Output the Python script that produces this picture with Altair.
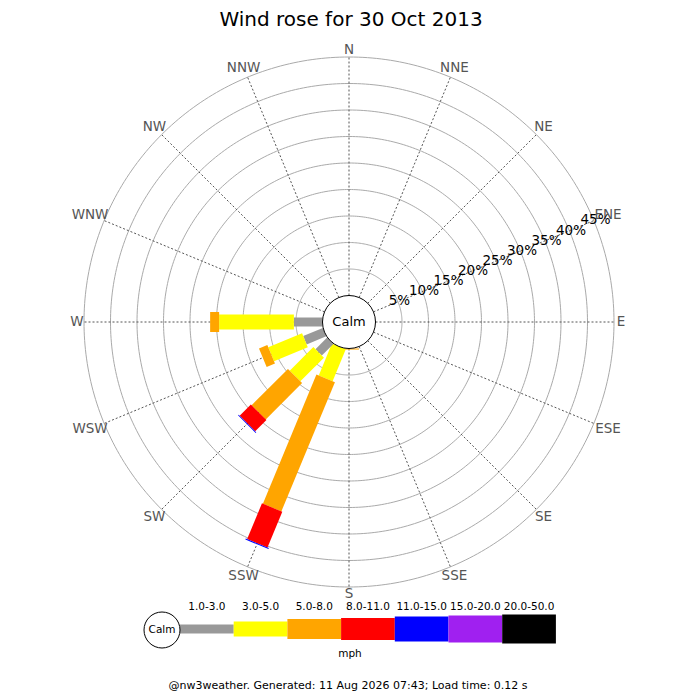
import altair as alt
import pandas as pd
import numpy as np

# ---------------- data ----------------
directions = ["N", "NNE", "NE", "ENE", "E", "ESE", "SE", "SSE",
              "S", "SSW", "SW", "WSW", "W", "WNW", "NW", "NNW"]
speed_bins = ["1.0-3.0", "3.0-5.0", "5.0-8.0", "8.0-11.0",
              "11.0-15.0", "15.0-20.0", "20.0-50.0"]
bin_colors = ["#999999", "#ffff00", "#ffa500", "#ff0000",
              "#0000ff", "#a020f0", "#000000"]
bin_widths = [9, 15, 20, 22, 25, 27, 29]
legend_widths = [9, 15, 21, 23, 25, 27, 29]

# percentage of time per speed bin, for the directions that have wind
pct_S = [0, 0, 0.2, 0, 0, 0, 0]
pct_SSW = [0, 6.5, 26.4, 7.3, 0.2, 0, 0]
pct_SW = [3.1, 6.3, 9.7, 3.0, 0.15, 0, 0]
pct_WSW = [4.0, 6.9, 1.7, 0, 0, 0, 0]
pct_W = [5.4, 14.1, 1.7, 0, 0, 0, 0]

ring_ticks = [5, 10, 15, 20, 25, 30, 35, 40, 45]

title_text = "Wind rose for 30 Oct 2013"
unit_text = "mph"
footer_text = "@nw3weather. Generated: 11 Aug 2026 07:43; Load time: 0.12 s"

# ---------------- geometry helpers ----------------
CALM_R = 5          # radius of calm circle in scale units (5% ring spacing)
OUTER = CALM_R + ring_ticks[-1]
PLOT = 530          # px for 2*OUTER units
PXU = PLOT / (2 * OUTER)
FONT = "DejaVu Sans"

xs = alt.Scale(domain=[-OUTER, OUTER], nice=False, zero=False)
ys = alt.Scale(domain=[-OUTER, OUTER], nice=False, zero=False)

def X(f):
    return alt.X(f, type="quantitative", scale=xs, axis=None)

def Y(f):
    return alt.Y(f, type="quantitative", scale=ys, axis=None)

color_enc = alt.Color("bin:N", scale=alt.Scale(domain=speed_bins, range=bin_colors), legend=None)

# bar table
rose = {"S": pct_S, "SSW": pct_SSW, "SW": pct_SW, "WSW": pct_WSW, "W": pct_W}
rows = []
for d, vals in rose.items():
    ang = directions.index(d) * 22.5
    for k, val in enumerate(vals):
        rows.append({"dir": d, "angle": ang, "bin": speed_bins[k], "k": k, "pct": val})
bars_df = pd.DataFrame(rows)

bars = alt.Chart(bars_df).transform_window(
    cum="sum(pct)", sort=[alt.SortField("k")], groupby=["dir"]
).transform_filter(
    alt.datum.pct > 0
).transform_calculate(
    rad="datum.angle*PI/180",
    r0=f"{CALM_R} + datum.cum - datum.pct",
    r1=f"{CALM_R} + datum.cum",
).transform_calculate(
    x0="datum.r0*sin(datum.rad)", y0="datum.r0*cos(datum.rad)",
    x1="datum.r1*sin(datum.rad)", y1="datum.r1*cos(datum.rad)",
).mark_rule(strokeCap="butt").encode(
    x=X("x0"), y=Y("y0"), x2="x1:Q", y2="y1:Q",
    color=color_enc,
    strokeWidth=alt.StrokeWidth("bin:N", scale=alt.Scale(type="ordinal", domain=speed_bins, range=bin_widths), legend=None),
)

# rings
ring_rows = []
for p in ring_ticks:
    r = CALM_R + p
    for j in range(361):
        t = np.radians(j)
        ring_rows.append({"ring": p, "j": j, "x": r * np.sin(t), "y": r * np.cos(t)})
rings = alt.Chart(pd.DataFrame(ring_rows)).mark_line(color="#aaaaaa", strokeWidth=1).encode(
    x=X("x"), y=Y("y"), detail="ring:N", order="j:Q"
)

# spokes
sp_df = pd.DataFrame({"dir": directions, "angle": [i * 22.5 for i in range(16)]})
spokes = alt.Chart(sp_df).transform_calculate(
    rad="datum.angle*PI/180"
).transform_calculate(
    x0=f"{CALM_R}*sin(datum.rad)", y0=f"{CALM_R}*cos(datum.rad)",
    x1=f"{OUTER}*sin(datum.rad)", y1=f"{OUTER}*cos(datum.rad)",
).mark_rule(color="#555555", strokeWidth=1, strokeDash=[2, 2]).encode(
    x=X("x0"), y=Y("y0"), x2="x1:Q", y2="y1:Q"
)

# direction labels
lab_df = sp_df.copy()
lab_r = (272 + 4.5 * (lab_df["dir"].str.len() - 1) * np.abs(np.sin(np.radians(lab_df["angle"])))) / PXU
lab_df["x"] = lab_r * np.sin(np.radians(lab_df["angle"]))
lab_df["y"] = lab_r * np.cos(np.radians(lab_df["angle"]))
dir_labels = alt.Chart(lab_df).mark_text(
    font=FONT, fontSize=13.5, color="#555555", baseline="middle", align="center"
).encode(x=X("x"), y=Y("y"), text="dir:N")

# percent labels
pl_df = pd.DataFrame({"p": ring_ticks})
pl_df["label"] = [f"{p}%" for p in ring_ticks]
pct_labels = alt.Chart(pl_df).transform_calculate(
    r=f"{CALM_R} + datum.p + 0.3", rad=f"{67.6}*PI/180"
).transform_calculate(
    x="datum.r*sin(datum.rad)", y="datum.r*cos(datum.rad)"
).mark_text(font=FONT, fontSize=13.5, color="black", baseline="middle", align="center").encode(
    x=X("x"), y=Y("y"), text="label:N"
)

# calm circle
calm_df = pd.DataFrame({"x": [0], "y": [0], "t": ["Calm"]})
calm = alt.Chart(calm_df).mark_point(
    shape="circle", filled=True, fill="white", stroke="black", strokeWidth=1,
    size=(2 * CALM_R * PXU) ** 2, opacity=1
).encode(x=X("x"), y=Y("y"))
calm_txt = alt.Chart(calm_df).mark_text(font=FONT, fontSize=13, color="black", baseline="middle").encode(
    x=X("x"), y=Y("y"), text="t:N"
)

# legend (positioned below the rose, in the same units)
CX, CY = 349, 322   # page px of the rose centre
def u(px):
    return (px - CX) / PXU
def v(py):
    return (CY - py) / PXU

seg_w = 53.7
leg_df = pd.DataFrame({"bin": speed_bins, "k": list(range(7))})
leg_df["x0"] = [u(180 + i * seg_w) for i in range(7)]
leg_df["x1"] = [u(180 + (i + 1) * seg_w) for i in range(7)]
leg_df["xm"] = (leg_df["x0"] + leg_df["x1"]) / 2
leg_df["y"] = v(629)
leg_df["yl"] = v(607)
legend_bars = alt.Chart(leg_df).mark_rule(strokeCap="butt").encode(
    x=X("x0"), y=Y("y"), x2="x1:Q",
    color=color_enc,
    strokeWidth=alt.StrokeWidth("bin:N", scale=alt.Scale(type="ordinal", domain=speed_bins, range=legend_widths), legend=None),
)
legend_labels = alt.Chart(leg_df).mark_text(font=FONT, fontSize=10.5, color="black", baseline="middle").encode(
    x=X("xm"), y=Y("yl"), text="bin:N"
)
lc_df = pd.DataFrame({"x": [u(162)], "y": [v(630)], "t": ["Calm"]})
legend_calm = alt.Chart(lc_df).mark_point(
    shape="circle", filled=True, fill="white", stroke="black", strokeWidth=1, size=36 ** 2, opacity=1
).encode(x=X("x"), y=Y("y"))
legend_calm_txt = alt.Chart(lc_df).mark_text(font=FONT, fontSize=10.5, color="black", baseline="middle").encode(
    x=X("x"), y=Y("y"), text="t:N"
)

# plot-area origin on the page is (84, 57)
def txt(s, px, py, size, color="black"):
    return alt.Chart(pd.DataFrame({"t": [s]})).mark_text(
        font=FONT, fontSize=size, color=color, baseline="middle", align="center"
    ).encode(x=alt.value(px - 84), y=alt.value(py - 57), text="t:N")

title = txt(title_text, 351, 19.5, 20)
unit = txt(unit_text, 350, 654, 10.5)
footer = txt(footer_text, 348, 686, 11)

chart = alt.layer(
    rings, spokes, bars, calm, calm_txt, dir_labels, pct_labels,
    legend_bars, legend_calm, legend_calm_txt, legend_labels, title, unit, footer
).properties(
    width=530, height=530,
    padding={"left": 76, "top": 49, "right": 78, "bottom": 105},
    autosize=alt.AutoSizeParams(type="none"),
    background="white",
).configure_view(stroke=None)

chart.save("out.html", embed_options={"renderer": "svg", "actions": False})
